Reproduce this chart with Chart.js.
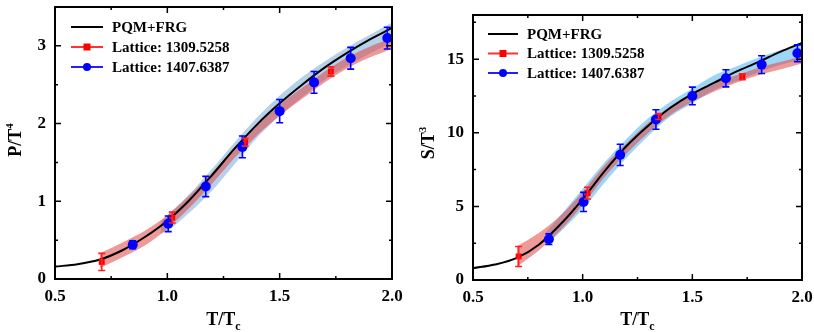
<!DOCTYPE html>
<html>
<head>
<meta charset="utf-8">
<script src="https://cdn.jsdelivr.net/npm/chart.js@4.4.1/dist/chart.umd.min.js"></script>
<style>
  html, body { margin: 0; padding: 0; background: #fff; }
  #wrap { position: relative; width: 814px; height: 332px; overflow: hidden; }
  .panel { position: absolute; top: 0; height: 332px; }
</style>
</head>
<body>
<div id="wrap">
  <div class="panel" style="left:0;width:410px"><canvas id="pressure" width="410" height="332"></canvas></div>
  <div class="panel" style="left:410px;width:404px"><canvas id="entropy" width="404" height="332"></canvas></div>
</div>
<script>
// PQM+FRG curve (both panels share the T grid)
const CURVE_T = [0.5, 0.6, 0.7, 0.8, 0.9, 1.0, 1.1, 1.2, 1.3, 1.4, 1.5, 1.6, 1.7, 1.8, 1.9, 2.0];
const CURVE_P = [0.16, 0.19, 0.25, 0.37, 0.54, 0.75, 1.02, 1.34, 1.68, 1.99, 2.26, 2.50, 2.72, 2.91, 3.08, 3.23];
const CURVE_S = [0.8, 1.05, 1.5, 2.4, 3.8, 5.5, 7.4, 9.1, 10.5, 11.7, 12.65, 13.4, 14.15, 14.8, 15.5, 16.1];

// Lattice 1309.5258 (red squares)
const RED_T     = [0.708, 1.022, 1.346, 1.728];
const RED_P     = [0.22, 0.79, 1.76, 2.67];
const RED_P_ERR = [0.11, 0.07, 0.05, 0.06];
const RED_S     = [1.6, 5.9, 11.1, 13.8];
const RED_S_ERR = [0.68, 0.4, 0.2, 0.2];

// Lattice 1407.6387 (blue circles)
const BLUE_T     = [0.846, 1.004, 1.171, 1.334, 1.5, 1.653, 1.816, 1.979];
const BLUE_P     = [0.44, 0.71, 1.19, 1.70, 2.16, 2.53, 2.84, 3.10];
const BLUE_P_ERR = [0.05, 0.10, 0.13, 0.14, 0.15, 0.14, 0.14, 0.14];
const BLUE_S     = [2.77, 5.3, 8.5, 10.9, 12.5, 13.7, 14.63, 15.4];
const BLUE_S_ERR = [0.36, 0.65, 0.72, 0.66, 0.6, 0.58, 0.6, 0.57];

// uncertainty bands
const RED_BAND_T    = [0.7, 0.8, 0.9, 1.0, 1.1, 1.2, 1.3, 1.4, 1.5, 1.6, 1.7, 1.8, 1.9, 2.0];
const RED_BAND_P_LO = [0.14, 0.28, 0.43, 0.65, 0.92, 1.23, 1.56, 1.85, 2.10, 2.32, 2.53, 2.71, 2.85, 2.96];
const RED_BAND_P_HI = [0.33, 0.47, 0.62, 0.82, 1.08, 1.37, 1.70, 1.98, 2.24, 2.46, 2.67, 2.85, 2.99, 3.10];
const RED_BAND_S_LO = [0.9, 2.0, 3.4, 5.1, 7.0, 8.6, 10.0, 11.2, 12.1, 12.8, 13.4, 13.9, 14.3, 14.7];
const RED_BAND_S_HI = [2.3, 3.2, 4.4, 6.0, 7.8, 9.3, 10.7, 11.8, 12.7, 13.4, 13.9, 14.4, 14.8, 15.2];

const BLUE_BAND_P_T  = [0.97, 1.0, 1.1, 1.2, 1.3, 1.4, 1.5, 1.6, 1.7, 1.8, 1.9, 2.0];
const BLUE_BAND_P_LO = [0.58, 0.62, 0.86, 1.14, 1.48, 1.82, 2.10, 2.34, 2.56, 2.74, 2.90, 3.04];
const BLUE_BAND_P_HI = [0.74, 0.82, 1.10, 1.42, 1.76, 2.08, 2.36, 2.60, 2.80, 2.98, 3.14, 3.30];
const BLUE_BAND_S_T  = [0.83, 0.9, 1.0, 1.1, 1.2, 1.3, 1.4, 1.5, 1.6, 1.7, 1.8, 1.9, 2.0];
const BLUE_BAND_S_LO = [2.3, 3.3, 4.8, 6.6, 8.3, 9.8, 11.1, 12.0, 12.9, 13.5, 14.1, 14.6, 15.0];
const BLUE_BAND_S_HI = [3.2, 4.4, 6.2, 8.0, 9.6, 11.0, 12.1, 13.0, 13.9, 14.5, 15.1, 15.6, 16.0];

const LEGEND_LABELS = ["PQM+FRG", "Lattice: 1309.5258", "Lattice: 1407.6387"];
const X_TICKS = [0.5, 1.0, 1.5, 2.0];

const FONT = '"Liberation Serif", "Times New Roman", serif';
const RED = "#ff0000";
const BLUE = "#0000ff";

function pts(xs, ys) {
  return xs.map((x, i) => ({ x, y: ys[i] }));
}

// frame, inward ticks, error bars, legend and axis titles
function decorPlugin(p) {
  return {
    id: "decor",
    afterDatasetsDraw(chart) {
      const ctx = chart.ctx, xs = chart.scales.x, ys = chart.scales.y;
      ctx.save();
      p.errors.forEach(set => {
        ctx.strokeStyle = set.color;
        ctx.lineWidth = 1.6;
        set.t.forEach((t, i) => {
          const x = xs.getPixelForValue(t);
          const y1 = ys.getPixelForValue(set.v[i] - set.e[i]);
          const y2 = ys.getPixelForValue(set.v[i] + set.e[i]);
          ctx.beginPath();
          ctx.moveTo(x, y1); ctx.lineTo(x, y2);
          ctx.moveTo(x - 3.5, y1); ctx.lineTo(x + 3.5, y1);
          ctx.moveTo(x - 3.5, y2); ctx.lineTo(x + 3.5, y2);
          ctx.stroke();
        });
      });
      ctx.restore();
    },
    afterDraw(chart) {
      const ctx = chart.ctx, a = chart.chartArea;
      const xs = chart.scales.x, ys = chart.scales.y;
      ctx.save();
      ctx.strokeStyle = "#000";
      ctx.lineWidth = 2;
      ctx.strokeRect(a.left, a.top, a.right - a.left, a.bottom - a.top);

      // ticks
      ctx.lineWidth = 1.5;
      const xt = xs.ticks.map(t => t.value);
      const yt = ys.ticks.map(t => t.value);
      const drawX = (v, len) => {
        const x = xs.getPixelForValue(v);
        ctx.beginPath();
        ctx.moveTo(x, a.bottom); ctx.lineTo(x, a.bottom - len);
        ctx.moveTo(x, a.top); ctx.lineTo(x, a.top + len);
        ctx.stroke();
      };
      const drawY = (v, len) => {
        const y = ys.getPixelForValue(v);
        ctx.beginPath();
        ctx.moveTo(a.left, y); ctx.lineTo(a.left + len, y);
        ctx.moveTo(a.right, y); ctx.lineTo(a.right - len, y);
        ctx.stroke();
      };
      xt.forEach(v => drawX(v, 6));
      for (let i = 0; i < xt.length - 1; i++) drawX((xt[i] + xt[i + 1]) / 2, 3);
      yt.forEach(v => drawY(v, 6));
      const ystep = yt[1] - yt[0];
      for (let v = yt[0] + ystep / 2; v < ys.max; v += ystep) drawY(v, 3);

      // legend
      const L = p.legend;
      const rows = [
        { color: "#000", marker: null },
        { color: "#ff3333", marker: "square" },
        { color: "#2020ff", marker: "circle" },
      ];
      ctx.font = "bold 15px " + FONT;
      ctx.textBaseline = "middle";
      ctx.textAlign = "left";
      rows.forEach((r, i) => {
        const y = L.y + i * L.dy;
        ctx.strokeStyle = r.color;
        ctx.lineWidth = 2;
        ctx.beginPath();
        ctx.moveTo(L.x, y); ctx.lineTo(L.x + L.w, y);
        ctx.stroke();
        const cx = L.x + L.w / 2;
        if (r.marker === "square") {
          ctx.fillStyle = RED;
          ctx.fillRect(cx - 3.5, y - 3.5, 7, 7);
        } else if (r.marker === "circle") {
          ctx.fillStyle = BLUE;
          ctx.beginPath(); ctx.arc(cx, y, 4, 0, Math.PI * 2); ctx.fill();
        }
        ctx.fillStyle = "#000";
        ctx.fillText(LEGEND_LABELS[i], L.x + L.w + 9, y + 1);
      });

      // x title: T/T_c
      ctx.fillStyle = "#000";
      ctx.textBaseline = "alphabetic";
      ctx.font = "bold 18px " + FONT;
      const main = "T/T";
      const mw = ctx.measureText(main).width;
      ctx.font = "bold 12px " + FONT;
      const sw = ctx.measureText("c").width;
      const x0 = (a.left + a.right) / 2 - (mw + sw) / 2;
      ctx.font = "bold 18px " + FONT;
      ctx.fillText(main, x0, 325);
      ctx.font = "bold 12px " + FONT;
      ctx.fillText("c", x0 + mw, 330);

      // y title with superscript
      ctx.save();
      ctx.translate(p.ytitle.x, p.ytitle.y);
      ctx.rotate(-Math.PI / 2);
      ctx.font = "bold 18px " + FONT;
      const yw = ctx.measureText(p.ytitle.main).width;
      ctx.font = "bold 11px " + FONT;
      const ew = ctx.measureText(p.ytitle.sup).width;
      const y0 = -(yw + ew) / 2;
      ctx.font = "bold 18px " + FONT;
      ctx.fillText(p.ytitle.main, y0, 0);
      ctx.font = "bold 11px " + FONT;
      ctx.fillText(p.ytitle.sup, y0 + yw, -8);
      ctx.restore();

      ctx.restore();
    },
  };
}

function makeChart(id, o) {
  const bandLine = { showLine: true, pointRadius: 0, borderWidth: 0, cubicInterpolationMode: "monotone" };
  return new Chart(document.getElementById(id), {
    type: "scatter",
    data: {
      datasets: [
        { data: pts(BLUE_T, o.blue), pointStyle: "circle", pointRadius: 5, backgroundColor: BLUE, borderColor: BLUE, borderWidth: 0 },
        { data: pts(RED_T, o.red), pointStyle: "rect", pointRadius: 4.2, backgroundColor: RED, borderColor: RED, borderWidth: 0 },
        { data: pts(CURVE_T, o.curve), showLine: true, pointRadius: 0, borderColor: "#000", borderWidth: 2, cubicInterpolationMode: "monotone" },
        { ...bandLine, data: pts(RED_BAND_T, o.redHi), borderColor: "transparent", backgroundColor: o.redFill, fill: "+1" },
        { ...bandLine, data: pts(RED_BAND_T, o.redLo), borderColor: "transparent" },
        { ...bandLine, data: pts(o.blueBandT, o.blueHi), borderColor: "transparent", backgroundColor: o.blueFill, fill: "+1" },
        { ...bandLine, data: pts(o.blueBandT, o.blueLo), borderColor: "transparent" },
      ],
    },
    options: {
      responsive: false,
      animation: false,
      devicePixelRatio: 1,
      layout: { padding: o.padding },
      plugins: { legend: { display: false }, tooltip: { enabled: false } },
      scales: {
        x: {
          type: "linear", min: 0.5, max: 2.0,
          afterBuildTicks: s => { s.ticks = X_TICKS.map(v => ({ value: v })); },
          afterFit: s => { s.height = o.xh; s.paddingLeft = 0; s.paddingRight = 0; },
          grid: { display: false, drawTicks: false }, border: { display: false },
          ticks: { color: "#000", padding: 7, maxRotation: 0, font: { family: FONT, size: 17, weight: "bold" }, callback: v => v.toFixed(1) },
        },
        y: {
          type: "linear", min: 0, max: o.ymax,
          afterBuildTicks: s => { s.ticks = o.yticks.map(v => ({ value: v })); },
          afterFit: s => { s.width = o.yw; s.paddingTop = 0; s.paddingBottom = 0; },
          grid: { display: false, drawTicks: false }, border: { display: false },
          ticks: { color: "#000", padding: 9, font: { family: FONT, size: 17, weight: "bold" } },
        },
      },
    },
    plugins: [decorPlugin({
      errors: [
        { t: BLUE_T, v: o.blue, e: o.blueErr, color: BLUE },
        { t: RED_T, v: o.red, e: o.redErr, color: "#ff2020" },
      ],
      legend: o.legend,
      ytitle: o.ytitle,
    })],
  });
}

makeChart("pressure", {
  curve: CURVE_P, red: RED_P, redErr: RED_P_ERR, blue: BLUE_P, blueErr: BLUE_P_ERR,
  redLo: RED_BAND_P_LO, redHi: RED_BAND_P_HI,
  blueBandT: BLUE_BAND_P_T, blueLo: BLUE_BAND_P_LO, blueHi: BLUE_BAND_P_HI,
  redFill: "rgba(225, 70, 70, 0.55)", blueFill: "rgba(110, 165, 215, 0.5)",
  ymax: 3.5, yticks: [0, 1, 2, 3],
  padding: { left: 0, top: 7, right: 18, bottom: 0 }, yw: 55, xh: 53,
  legend: { x: 71, y: 27, dy: 20, w: 32 },
  ytitle: { x: 21, y: 140, main: "P/T", sup: "4" },
});

makeChart("entropy", {
  curve: CURVE_S, red: RED_S, redErr: RED_S_ERR, blue: BLUE_S, blueErr: BLUE_S_ERR,
  redLo: RED_BAND_S_LO, redHi: RED_BAND_S_HI,
  blueBandT: BLUE_BAND_S_T, blueLo: BLUE_BAND_S_LO, blueHi: BLUE_BAND_S_HI,
  redFill: "rgba(225, 70, 70, 0.55)", blueFill: "rgba(80, 180, 240, 0.55)",
  ymax: 18, yticks: [0, 5, 10, 15],
  padding: { left: 0, top: 15, right: 12, bottom: 0 }, yw: 63, xh: 52,
  legend: { x: 78, y: 34, dy: 19.5, w: 30 },
  ytitle: { x: 24, y: 143, main: "S/T", sup: "3" },
});
</script>
</body>
</html>
